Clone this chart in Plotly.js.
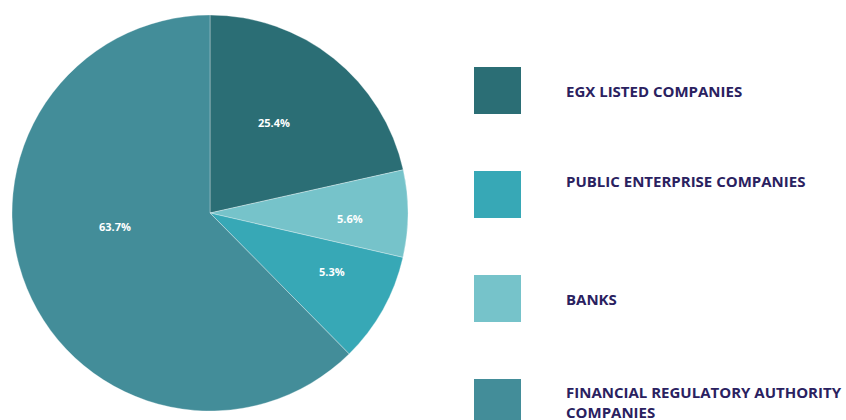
<!DOCTYPE html>
<html>
<head>
<meta charset="utf-8">
<script src="https://cdn.plot.ly/plotly-3.0.1.min.js"></script>
<style>html,body{margin:0;padding:0;background:#fff;}#chart{width:846px;height:420px;}</style>
</head>
<body>
<div id="chart"></div>
<script>
// Categories in legend order
var categories = ["EGX LISTED COMPANIES", "PUBLIC ENTERPRISE COMPANIES", "BANKS", "FINANCIAL REGULATORY AUTHORITY COMPANIES"];
// Slice sizes as drawn in the picture (percent of the circle)
var sliceShares = [21.5, 9.0, 7.1, 62.4];
// Percentage labels printed on the slices
var shareLabels = ["25.4%", "5.3%", "5.6%", "63.7%"];
var colors = ["#2b6e75", "#37a8b6", "#76c3ca", "#438d99"];
// Order of the slices going clockwise from 12 o'clock
var sliceOrder = [0, 2, 1, 3];

var W = 846, H = 420;
function px(x){ return x / W; }
function py(y){ return 1 - y / H; }

var pie = {
  type: "pie",
  labels: sliceOrder.map(function(i){ return categories[i]; }),
  values: sliceOrder.map(function(i){ return sliceShares[i]; }),
  marker: { colors: sliceOrder.map(function(i){ return colors[i]; }), line: { color: "rgba(255,255,255,0.45)", width: 0.7 } },
  sort: false,
  direction: "clockwise",
  rotation: 0,
  textinfo: "none",
  hoverinfo: "none",
  showlegend: false,
  domain: { x: [px(12), px(408)], y: [py(411), py(15)] }
};

// Label placement (pixels), in legend order
var labelPos = [[274, 122], [332, 271], [350, 218], [115, 226]];
var legendTop = [67, 171, 275, 379];
var textLines = [[["EGX LISTED COMPANIES", 91]], [["PUBLIC ENTERPRISE COMPANIES", 181]], [["BANKS", 299]], [["FINANCIAL REGULATORY AUTHORITY", 392], ["COMPANIES", 412]]];

var shapes = [], annotations = [];
categories.forEach(function(c, i){
  annotations.push({ xref: "paper", yref: "paper", x: px(labelPos[i][0]), y: py(labelPos[i][1]), xanchor: "center", yanchor: "middle", showarrow: false,
    text: shareLabels[i], font: { family: "Open Sans", size: 11, color: "#ffffff", weight: "bold" } });
  shapes.push({ type: "rect", xref: "paper", yref: "paper", x0: px(474), x1: px(521), y0: py(legendTop[i] + 47), y1: py(legendTop[i]), fillcolor: colors[i], line: { width: 0 } });
  textLines[i].forEach(function(t){
    annotations.push({ xref: "paper", yref: "paper", x: px(564), y: py(t[1]), xanchor: "left", yanchor: "middle", showarrow: false, text: t[0],
      font: { family: "Open Sans", size: 15, color: "#2a2160", weight: "bold" } });
  });
});

var layout = {
  width: W, height: H,
  margin: { l: 0, r: 0, t: 0, b: 0 },
  paper_bgcolor: "#ffffff",
  plot_bgcolor: "#ffffff",
  shapes: shapes,
  annotations: annotations,
  showlegend: false
};

Plotly.newPlot("chart", [pie], layout, { displayModeBar: false, staticPlot: true });
</script>
</body>
</html>
